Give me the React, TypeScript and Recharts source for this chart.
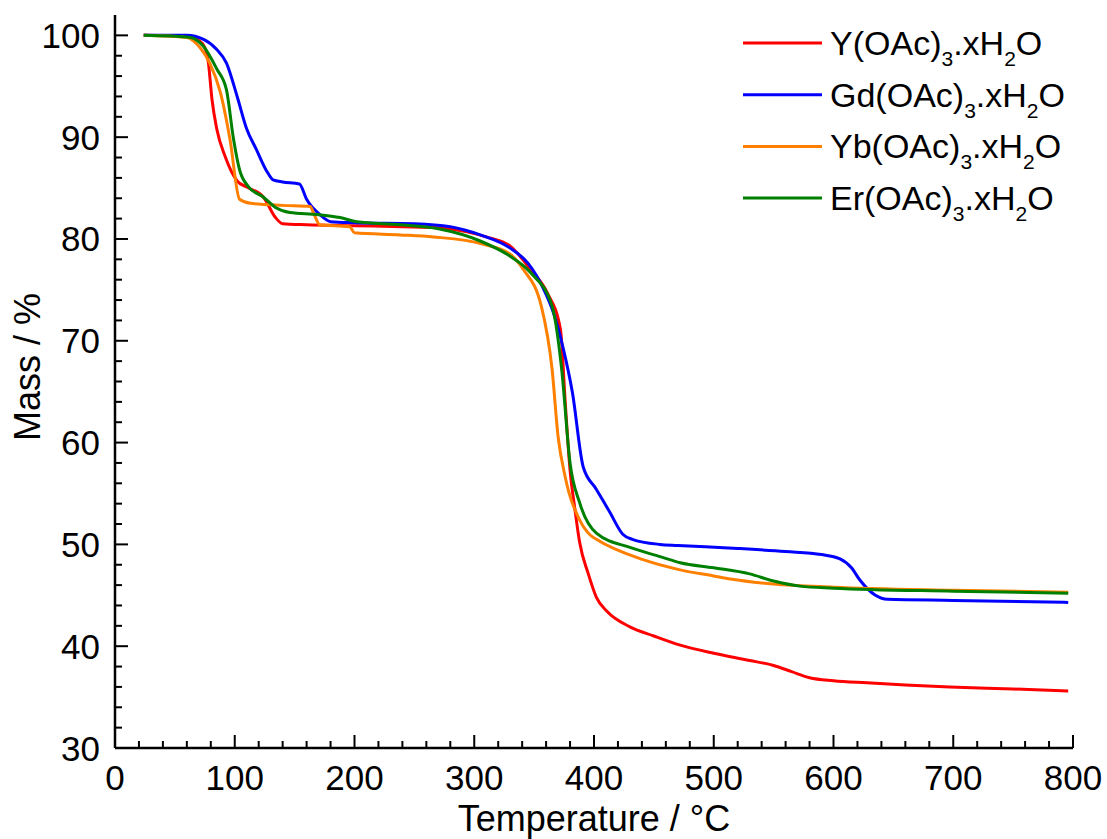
import React from "react";
import { LineChart, Line, XAxis, YAxis, Legend, Label } from "recharts";

// TGA curves, mass (%) vs temperature (°C)
const yTemp = [24, 60, 70, 75, 78, 81, 85, 92, 102, 110, 124, 134, 140, 160, 200, 240, 270, 294, 310, 330, 347, 361, 372, 376, 380, 384, 388, 395, 402, 411, 430, 450, 472, 500, 530, 550, 565, 580, 600, 628, 660, 697, 750, 796];
const yMass = [100, 99.9, 99.5, 98.8, 97.3, 93.7, 90.8, 88.1, 85.7, 85.1, 84.1, 82.1, 81.5, 81.4, 81.3, 81.2, 81.1, 80.7, 80.2, 79.3, 77.0, 74.7, 71.1, 63.9, 57.3, 53.5, 50.2, 47.2, 44.8, 43.4, 41.9, 41.0, 40.1, 39.3, 38.6, 38.1, 37.5, 36.9, 36.6, 36.4, 36.2, 36.0, 35.8, 35.6];

const gdTemp = [24, 60, 74, 85, 93, 102, 110, 118, 127, 132, 140, 154, 160, 171, 180, 200, 250, 280, 305, 330, 345, 357, 366, 374, 382, 391, 402, 413, 424, 432, 455, 470, 520, 560, 590, 605, 615, 622, 635, 645, 700, 796];
const gdMass = [100, 100, 99.6, 98.6, 97.3, 94.0, 90.8, 88.8, 86.6, 85.8, 85.6, 85.4, 83.9, 82.4, 81.7, 81.6, 81.5, 81.2, 80.4, 79.1, 77.6, 75.3, 72.8, 69.4, 64.9, 57.6, 55.4, 53.2, 51.0, 50.5, 50.0, 49.9, 49.6, 49.3, 49.0, 48.6, 47.7, 46.5, 45.0, 44.6, 44.5, 44.3];

const ybTemp = [24, 60, 71, 79, 88, 96, 104, 113, 140, 163, 166, 171, 196, 200, 238, 266, 307, 330, 341, 356, 365, 370, 376, 388, 397, 402, 441, 472, 500, 514, 550, 600, 700, 796];
const ybMass = [100, 99.8, 98.8, 97.3, 94.4, 89.8, 83.9, 83.5, 83.3, 83.2, 82.5, 81.4, 81.2, 80.6, 80.4, 80.2, 79.5, 78.5, 77.0, 73.4, 67.2, 60.6, 56.6, 52.4, 50.9, 50.5, 48.5, 47.5, 46.9, 46.6, 46.1, 45.8, 45.5, 45.3];

const erTemp = [24, 63, 74, 85, 93, 99, 104, 111, 124, 134, 146, 169, 188, 202, 238, 270, 305, 330, 347, 365, 373, 380, 388, 402, 430, 455, 472, 500, 530, 550, 572, 600, 700, 796];
const erMass = [100, 99.8, 98.9, 96.7, 94.7, 89.8, 86.8, 85.2, 84.1, 83.1, 82.6, 82.4, 82.1, 81.7, 81.4, 81.0, 79.8, 78.3, 76.7, 73.4, 67.2, 58.0, 54.1, 51.1, 49.7, 48.8, 48.2, 47.7, 47.1, 46.4, 45.9, 45.7, 45.4, 45.2];

const elements = ["Y", "Gd", "Yb", "Er"];
const colors = ["#ff0000", "#0000ff", "#ff8000", "#008000"];

const xTicks = Array.from({ length: 41 }, (_, i) => i * 20);
const yTicks = Array.from({ length: 36 }, (_, i) => 30 + i * 2);

const toPoints = (ts: number[], ms: number[]) => ts.map((t, i) => ({ t, m: ms[i] }));
const series = [
  toPoints(yTemp, yMass),
  toPoints(gdTemp, gdMass),
  toPoints(ybTemp, ybMass),
  toPoints(erTemp, erMass),
];

const FONT = "'Liberation Sans', Arial, sans-serif";

const XTick = ({ x, y, payload }: any) => {
  const major = payload.value % 100 === 0;
  return (
    <g>
      <line x1={x} x2={x} y1={y} y2={y - (major ? 13 : 7)} stroke="#000" strokeWidth={2} />
      {major && (
        <text x={x} y={y + 42} textAnchor="middle" fontSize={35} fontFamily={FONT} fill="#000">
          {payload.value}
        </text>
      )}
    </g>
  );
};

const YTick = ({ x, y, payload }: any) => {
  const major = payload.value % 10 === 0;
  return (
    <g>
      <line x1={x} x2={x + (major ? 13 : 7)} y1={y} y2={y} stroke="#000" strokeWidth={2} />
      {major && (
        <text x={x - 15} y={y + 12.5} textAnchor="end" fontSize={35} fontFamily={FONT} fill="#000">
          {payload.value}
        </text>
      )}
    </g>
  );
};

const renderLegend = () => (
  <svg width={340} height={215} style={{ display: "block" }}>
    {elements.map((el, i) => {
      const cy = 26 + i * 51.7;
      return (
        <g key={el}>
          <line x1={0} x2={79} y1={cy} y2={cy} stroke={colors[i]} strokeWidth={3} />
          <text x={87} y={cy + 12} fontSize={34} fontFamily={FONT} fill="#000">
            <tspan>{el}(OAc)</tspan>
            <tspan fontSize={21} dy={11}>3</tspan>
            <tspan dy={-11}>.xH</tspan>
            <tspan fontSize={21} dy={11}>2</tspan>
            <tspan dy={-11}>O</tspan>
          </text>
        </g>
      );
    })}
  </svg>
);

export default function App() {
  return (
    <div style={{ position: "absolute", left: 0, top: 0, background: "#fff" }}>
      <LineChart width={1107} height={839} margin={{ top: 15, right: 34, bottom: 0, left: 0 }}>
        <XAxis
          dataKey="t"
          type="number"
          domain={[0, 800]}
          ticks={xTicks}
          interval={0}
          tickSize={0}
          tickMargin={0}
          tickLine={false}
          tick={<XTick />}
          height={91}
          axisLine={{ stroke: "#000", strokeWidth: 2.5 }}
          allowDataOverflow
        >
          <Label
            content={({ viewBox }: any) => (
              <text
                x={viewBox.x + viewBox.width / 2}
                y={viewBox.y + 83}
                textAnchor="middle"
                fontSize={36}
                fontFamily={FONT}
                fill="#000"
              >
                Temperature / °C
              </text>
            )}
          />
        </XAxis>
        <XAxis
          xAxisId="top"
          orientation="top"
          type="number"
          domain={[0, 800]}
          height={0}
          tick={false}
          tickLine={false}
          axisLine={{ stroke: "#000", strokeWidth: 2.5 }}
        />
        <YAxis
          type="number"
          domain={[30, 102]}
          ticks={yTicks}
          interval={0}
          tickSize={0}
          tickMargin={0}
          tickLine={false}
          tick={<YTick />}
          width={115}
          axisLine={{ stroke: "#000", strokeWidth: 2.5 }}
          allowDataOverflow
        >
          <Label
            content={() => (
              <text
                x={40}
                y={367}
                transform="rotate(-90, 40, 367)"
                textAnchor="middle"
                fontSize={36}
                fontFamily={FONT}
                fill="#000"
              >
                Mass / %
              </text>
            )}
          />
        </YAxis>
        <YAxis
          yAxisId="right"
          orientation="right"
          type="number"
          domain={[30, 102]}
          width={0}
          tick={false}
          tickLine={false}
          axisLine={{ stroke: "#000", strokeWidth: 2.5 }}
        />
        <Legend
          layout="vertical"
          align="center"
          verticalAlign="middle"
          content={renderLegend}
          wrapperStyle={{ left: 743, top: 17, width: 340 }}
        />
        {series.map((pts, i) => (
          <Line
            key={elements[i]}
            data={pts}
            dataKey="m"
            name={`${elements[i]}(OAc)3.xH2O`}
            type="monotoneX"
            stroke={colors[i]}
            strokeWidth={3}
            dot={false}
            activeDot={false}
            isAnimationActive={false}
          />
        ))}
      </LineChart>
    </div>
  );
}
